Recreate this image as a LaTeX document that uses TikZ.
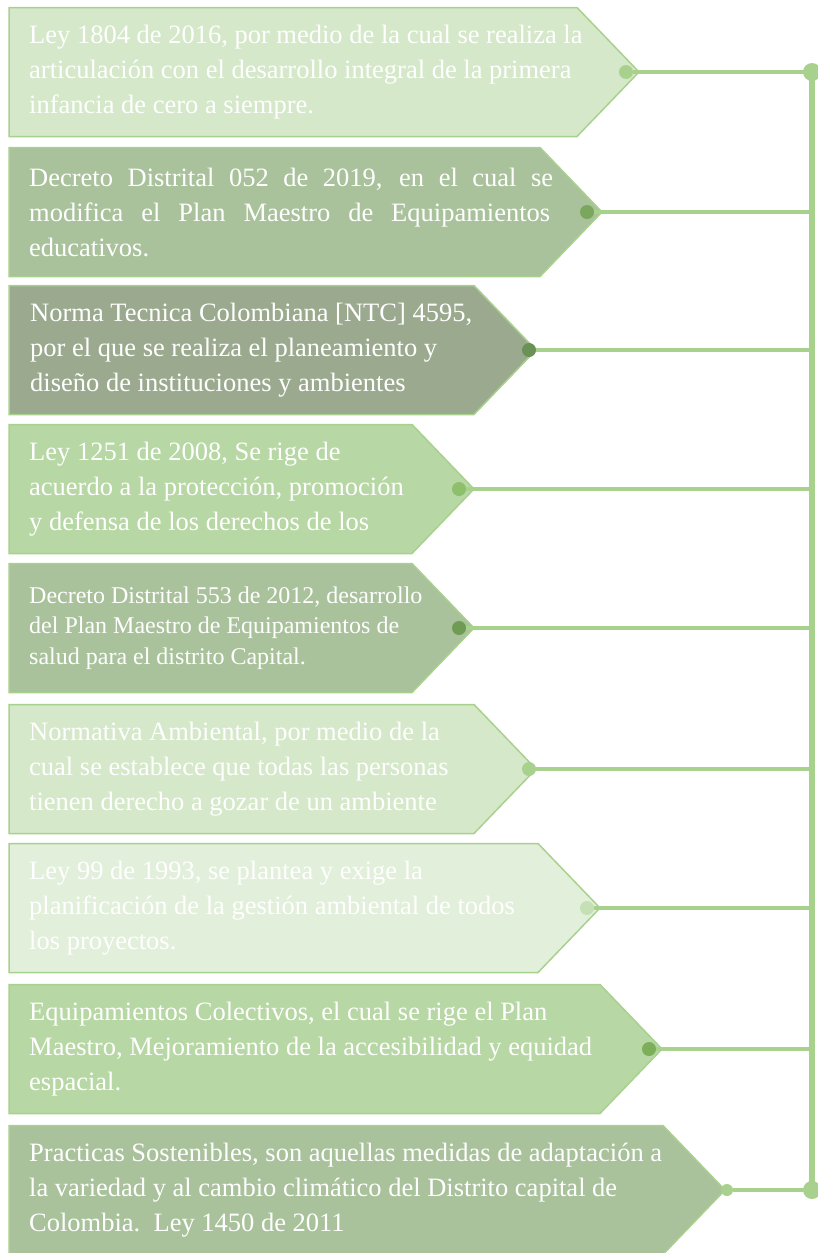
\documentclass[tikz,border=0pt]{standalone}
\usepackage{fontspec}
\setmainfont{Liberation Serif}
\usepackage{xcolor}
\usepackage{tikz}
\definecolor{lborde}{RGB}{169, 209, 142}
\definecolor{claro}{RGB}{213, 232, 201}
\definecolor{palido}{RGB}{226, 239, 218}
\definecolor{medio}{RGB}{183, 215, 164}
\definecolor{oliva}{RGB}{169, 194, 155}
\definecolor{gris}{RGB}{155, 170, 143}
\definecolor{pclaro}{RGB}{197, 224, 180}
\definecolor{pmedio}{RGB}{141, 191, 108}
\definecolor{poscuro}{RGB}{123, 166, 93}
\definecolor{pgris}{RGB}{107, 145, 86}
\definecolor{poliva}{RGB}{110, 156, 83}
\definecolor{pverde}{RGB}{125, 174, 90}
\newcommand{\flecha}[3]{
  \draw[draw = lborde, fill = #3, line width = 1.5] (9, #1-64.5) -- (#2, #1-64.5) -- (#2+62, #1) -- (#2, #1+64.5) -- (9, #1+64.5) -- cycle;
}
\newcommand{\linea}[2]{\makebox[#1][s]{#2}}
\tikzset{
  texto/.style = {anchor = west, inner sep = 0, align = left, text = white, font = \fontsize{26.5}{35}\selectfont},
  textochico/.style = {texto, font = \fontsize{24}{30.5}\selectfont},
  punto/.style = {circle, inner sep = 0, minimum size = 14},
  nodo/.style = {circle, inner sep = 0, minimum size = 18, fill = lborde},
  conector/.style = {draw = lborde, line width = 4},
  eje/.style = {draw = lborde, line width = 6}
}

\begin{document}
\begin{tikzpicture}[x = 1pt, y = -1pt]
  \useasboundingbox (0, 0) rectangle (817, 1253);
  \flecha{72}{577}{claro}
  \flecha{212}{540}{oliva}
  \flecha{350}{474}{gris}
  \flecha{489}{412}{medio}
  \flecha{628}{412}{oliva}
  \flecha{769}{474}{claro}
  \flecha{908}{538}{palido}
  \flecha{1049}{600}{medio}
  \flecha{1190}{663}{oliva}
  \node[texto] (t1) at (29, 72){Ley 1804 de 2016, por medio de la cual se realiza la\\articulación con el desarrollo integral de la primera\\infancia de cero a siempre.};
  \node[texto] (t2) at (29, 212){\linea{524pt}{Decreto Distrital 052 de 2019, en el cual se}\\\linea{521pt}{modifica el Plan Maestro de Equipamientos}\\educativos.};
  \node[texto] (t3) at (30, 350){Norma Tecnica Colombiana [NTC] 4595,\\por el que se realiza el planeamiento y\\diseño de instituciones y ambientes};
  \node[texto] (t4) at (29, 489){Ley 1251 de 2008, Se rige de\\acuerdo a la protección, promoción\\y defensa de los derechos de los};
  \node[textochico] (t5) at (29, 628){Decreto Distrital 553 de 2012, desarrollo\\del Plan Maestro de Equipamientos de\\salud para el distrito Capital.};
  \node[texto] (t6) at (29, 769){Normativa Ambiental, por medio de la\\cual se establece que todas las personas\\tienen derecho a gozar de un ambiente};
  \node[texto] (t7) at (29, 908){Ley 99 de 1993, se plantea y exige la\\planificación de la gestión ambiental de todos\\los proyectos.};
  \node[texto] (t8) at (29, 1049){Equipamientos Colectivos, el cual se rige el Plan\\Maestro, Mejoramiento de la accesibilidad y equidad\\espacial.};
  \node[texto] (t9) at (29, 1190){Practicas Sostenibles, son aquellas medidas de adaptación a\\la variedad y al cambio climático del Distrito capital de\\Colombia.\ \ Ley 1450 de 2011};
  \coordinate (h1) at (812, 72);
  \coordinate (h2) at (812, 212);
  \coordinate (h3) at (812, 350);
  \coordinate (h4) at (812, 489);
  \coordinate (h5) at (812, 628);
  \coordinate (h6) at (812, 769);
  \coordinate (h7) at (812, 908);
  \coordinate (h8) at (812, 1049);
  \coordinate (h9) at (812, 1190);
  \node[punto, fill = lborde] (p1) at (626, 72){};
  \node[punto, fill = poscuro] (p2) at (587, 212){};
  \node[punto, fill = pgris] (p3) at (529, 350){};
  \node[punto, fill = pmedio] (p4) at (459, 489){};
  \node[punto, fill = poliva] (p5) at (459, 628){};
  \node[punto, fill = lborde] (p6) at (529, 769){};
  \node[punto, fill = pclaro] (p7) at (587, 908){};
  \node[punto, fill = pverde] (p8) at (649, 1049){};
  \node[punto, fill = lborde, minimum size = 12] (p9) at (727, 1190){};
  \draw[eje] (h1) -- (h9);
  \draw[conector] (p1) -- (h1);
  \draw[conector] (p2) -- (h2);
  \draw[conector] (p3) -- (h3);
  \draw[conector] (p4) -- (h4);
  \draw[conector] (p5) -- (h5);
  \draw[conector] (p6) -- (h6);
  \draw[conector] (p7) -- (h7);
  \draw[conector] (p8) -- (h8);
  \draw[conector] (p9) -- (h9);
  \node[nodo] (n1) at (h1){};
  \node[nodo] (n9) at (h9){};
\end{tikzpicture}
\end{document}
